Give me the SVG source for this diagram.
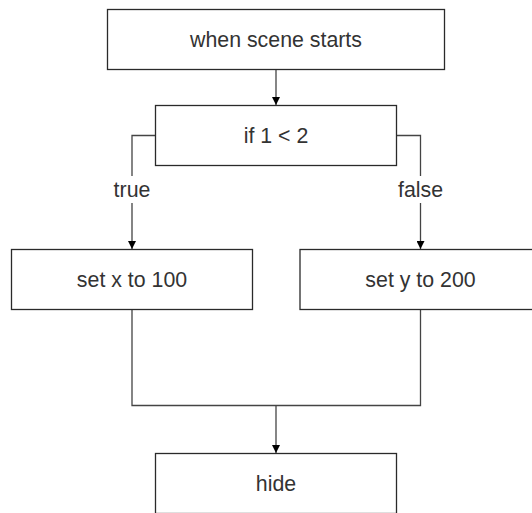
<svg xmlns="http://www.w3.org/2000/svg" width="532" height="513" viewBox="0 0 532 513">
<style>
.box{fill:#fff;stroke:#2a2a2a;stroke-width:1.3}
.t{font-family:"Liberation Sans",Arial,sans-serif;font-size:21.33px;fill:#333;text-anchor:middle}
.c{fill:none;stroke:#444;stroke-width:1.3}
.lbg{fill:#fff}
</style>
<defs>
<marker id="ah" viewBox="0 0 10 10" refX="10" refY="5" markerWidth="8" markerHeight="8" markerUnits="userSpaceOnUse" orient="auto">
<path d="M0,0 L10,5 L0,10 Z" fill="#000"/>
</marker>
</defs>
<rect width="532" height="513" fill="#fff"/>
<g id="connectors">
<line class="c" x1="276" y1="69.5" x2="276" y2="105" marker-end="url(#ah)"/>
<polyline class="c" points="155.5,135.5 132,135.5 132,249" marker-end="url(#ah)"/>
<polyline class="c" points="396.5,135.5 420.5,135.5 420.5,249" marker-end="url(#ah)"/>
<polyline class="c" points="132,309.5 132,405.5 420.5,405.5 420.5,309.5"/>
<line class="c" x1="276" y1="405.5" x2="276" y2="453" marker-end="url(#ah)"/>
<g id="label-true"><rect class="lbg" x="112" y="176" width="40" height="27"/><text class="t" x="132" y="197">true</text></g>
<g id="label-false"><rect class="lbg" x="396" y="176" width="49" height="27"/><text class="t" x="420.5" y="197">false</text></g>
</g>
<g id="start"><rect class="box" x="107.5" y="9.5" width="337" height="60"/><text class="t" x="276" y="47">when scene starts</text></g>
<g id="if"><rect class="box" x="155.5" y="105.5" width="241" height="60"/><text class="t" x="276" y="143">if 1 &lt; 2</text></g>
<g id="setx"><rect class="box" x="11.5" y="249.5" width="241" height="60"/><text class="t" x="132" y="287">set x to 100</text></g>
<g id="sety"><rect class="box" x="300" y="249.5" width="241" height="60"/><text class="t" x="420.5" y="287">set y to 200</text></g>
<g id="hide"><rect class="box" x="155.5" y="453.5" width="241" height="60"/><text class="t" x="276" y="491">hide</text></g>
</svg>
